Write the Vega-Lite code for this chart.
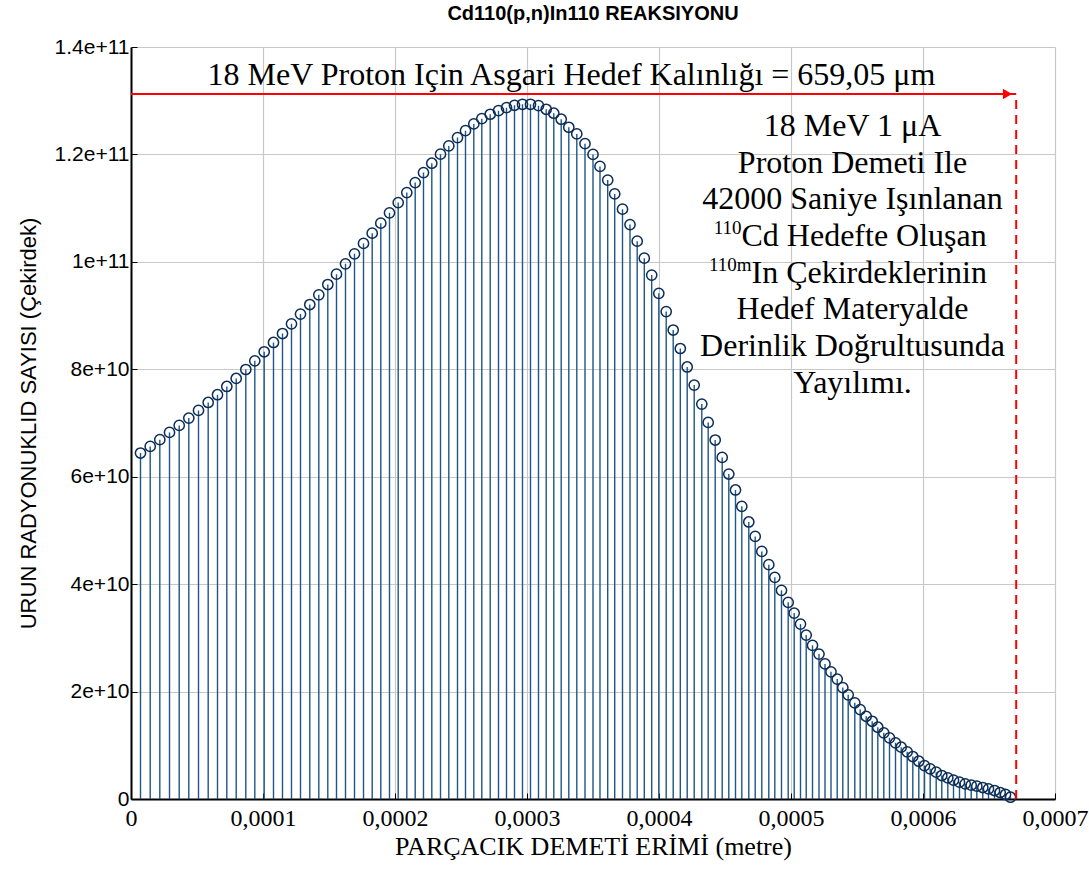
{
  "$schema": "https://vega.github.io/schema/vega-lite/v6.json",
  "width": 924,
  "height": 752,
  "autosize": "none",
  "padding": {"left": 131, "top": 47, "right": 34, "bottom": 73},
  "background": "white",
  "config": {"view": {"stroke": null}},
  "title": {"text": "Cd110(p,n)In110 REAKSIYONU", "font": "Liberation Sans", "fontSize": 20, "fontWeight": "bold", "color": "black", "anchor": "middle", "offset": 12},
  "datasets": {
    "pts": [
      {"x": 7.20e-6, "y": 6.441e10}, {"x": 1.455e-5, "y": 6.564e10}, {"x": 2.182e-5, "y": 6.689e10}, {"x": 2.917e-5, "y": 6.824e10},
      {"x": 3.652e-5, "y": 6.955e10}, {"x": 4.379e-5, "y": 7.092e10}, {"x": 5.114e-5, "y": 7.234e10}, {"x": 5.848e-5, "y": 7.382e10},
      {"x": 6.553e-5, "y": 7.526e10}, {"x": 7.258e-5, "y": 7.680e10}, {"x": 7.970e-5, "y": 7.829e10}, {"x": 8.697e-5, "y": 7.996e10},
      {"x": 9.379e-5, "y": 8.158e10}, {"x": 1.0091e-4, "y": 8.326e10}, {"x": 1.0795e-4, "y": 8.499e10}, {"x": 1.1477e-4, "y": 8.666e10},
      {"x": 1.2159e-4, "y": 8.847e10}, {"x": 1.2841e-4, "y": 9.027e10}, {"x": 1.3545e-4, "y": 9.206e10}, {"x": 1.4227e-4, "y": 9.386e10},
      {"x": 1.4909e-4, "y": 9.578e10}, {"x": 1.5568e-4, "y": 9.771e10}, {"x": 1.6250e-4, "y": 9.963e10}, {"x": 1.6932e-4, "y": 1.0149e11},
      {"x": 1.7614e-4, "y": 1.0344e11}, {"x": 1.8273e-4, "y": 1.0534e11}, {"x": 1.8924e-4, "y": 1.0720e11}, {"x": 1.9583e-4, "y": 1.0912e11},
      {"x": 2.0242e-4, "y": 1.1103e11}, {"x": 2.0894e-4, "y": 1.1289e11}, {"x": 2.1530e-4, "y": 1.1476e11}, {"x": 2.2159e-4, "y": 1.1662e11},
      {"x": 2.2788e-4, "y": 1.1836e11}, {"x": 2.3447e-4, "y": 1.2004e11}, {"x": 2.4076e-4, "y": 1.2158e11}, {"x": 2.4735e-4, "y": 1.2313e11},
      {"x": 2.5341e-4, "y": 1.2443e11}, {"x": 2.5970e-4, "y": 1.2568e11}, {"x": 2.6576e-4, "y": 1.2666e11}, {"x": 2.7212e-4, "y": 1.2748e11},
      {"x": 2.7841e-4, "y": 1.2815e11}, {"x": 2.8447e-4, "y": 1.2871e11}, {"x": 2.9053e-4, "y": 1.2915e11}, {"x": 2.9659e-4, "y": 1.2934e11},
      {"x": 3.0265e-4, "y": 1.2934e11}, {"x": 3.0871e-4, "y": 1.2908e11}, {"x": 3.1455e-4, "y": 1.2841e11}, {"x": 3.2030e-4, "y": 1.2767e11},
      {"x": 3.2591e-4, "y": 1.2655e11}, {"x": 3.3167e-4, "y": 1.2506e11}, {"x": 3.3773e-4, "y": 1.2382e11}, {"x": 3.4394e-4, "y": 1.2201e11},
      {"x": 3.5000e-4, "y": 1.2000e11}, {"x": 3.5530e-4, "y": 1.1777e11}, {"x": 3.6114e-4, "y": 1.1522e11}, {"x": 3.6644e-4, "y": 1.1265e11},
      {"x": 3.7235e-4, "y": 1.0981e11}, {"x": 3.7803e-4, "y": 1.0694e11}, {"x": 3.8348e-4, "y": 1.0385e11}, {"x": 3.8886e-4, "y": 1.0069e11},
      {"x": 3.9447e-4, "y": 9.753e10}, {"x": 3.9985e-4, "y": 9.414e10}, {"x": 4.0545e-4, "y": 9.074e10}, {"x": 4.1076e-4, "y": 8.731e10},
      {"x": 4.1614e-4, "y": 8.387e10}, {"x": 4.2136e-4, "y": 8.043e10}, {"x": 4.2667e-4, "y": 7.706e10}, {"x": 4.3242e-4, "y": 7.353e10},
      {"x": 4.3727e-4, "y": 7.010e10}, {"x": 4.4258e-4, "y": 6.683e10}, {"x": 4.4788e-4, "y": 6.359e10}, {"x": 4.5288e-4, "y": 6.050e10},
      {"x": 4.5795e-4, "y": 5.753e10}, {"x": 4.6273e-4, "y": 5.448e10}, {"x": 4.6803e-4, "y": 5.157e10}, {"x": 4.7288e-4, "y": 4.889e10},
      {"x": 4.7788e-4, "y": 4.610e10}, {"x": 4.8318e-4, "y": 4.363e10}, {"x": 4.8773e-4, "y": 4.127e10}, {"x": 4.9280e-4, "y": 3.885e10},
      {"x": 4.9788e-4, "y": 3.661e10}, {"x": 5.0242e-4, "y": 3.461e10}, {"x": 5.0720e-4, "y": 3.256e10}, {"x": 5.1152e-4, "y": 3.051e10},
      {"x": 5.1629e-4, "y": 2.861e10}, {"x": 5.2121e-4, "y": 2.698e10}, {"x": 5.2576e-4, "y": 2.515e10}, {"x": 5.3030e-4, "y": 2.367e10},
      {"x": 5.3500e-4, "y": 2.233e10}, {"x": 5.3924e-4, "y": 2.074e10}, {"x": 5.4333e-4, "y": 1.939e10}, {"x": 5.4833e-4, "y": 1.790e10},
      {"x": 5.5242e-4, "y": 1.665e10}, {"x": 5.5697e-4, "y": 1.540e10}, {"x": 5.6152e-4, "y": 1.447e10}, {"x": 5.6576e-4, "y": 1.336e10},
      {"x": 5.7030e-4, "y": 1.232e10}, {"x": 5.7462e-4, "y": 1.139e10}, {"x": 5.7917e-4, "y": 1.046e10}, {"x": 5.8348e-4, "y": 9.64e9},
      {"x": 5.8803e-4, "y": 8.78e9}, {"x": 5.9227e-4, "y": 7.91e9}, {"x": 5.9682e-4, "y": 7.03e9}, {"x": 6.0114e-4, "y": 6.23e9},
      {"x": 6.0545e-4, "y": 5.62e9}, {"x": 6.1000e-4, "y": 4.99e9}, {"x": 6.1424e-4, "y": 4.37e9}, {"x": 6.1879e-4, "y": 3.94e9},
      {"x": 6.2311e-4, "y": 3.50e9}, {"x": 6.2765e-4, "y": 3.13e9}, {"x": 6.3197e-4, "y": 2.83e9}, {"x": 6.3652e-4, "y": 2.57e9},
      {"x": 6.4076e-4, "y": 2.38e9}, {"x": 6.4530e-4, "y": 2.14e9}, {"x": 6.4962e-4, "y": 1.90e9}, {"x": 6.5417e-4, "y": 1.58e9},
      {"x": 6.5848e-4, "y": 1.21e9}, {"x": 6.6250e-4, "y": 8.4e8}, {"x": 6.6629e-4, "y": 3.3e8}
    ],
    "arrow": [{"x": 0, "x2": 6.706e-4, "y": 1.3126e11}],
    "head": [{"x": 6.64e-4, "y": 1.3126e11}],
    "dash": [{"x": 6.706e-4, "y": 0, "y2": 1.3126e11}],
    "centerText": [
      {"x": 3.337e-4, "y": 1.329e11, "text": "18 MeV Proton Için Asgari Hedef Kalınlığı = 659,05 μm"},
      {"x": 5.466e-4, "y": 1.2344e11, "text": "18 MeV 1 μA"},
      {"x": 5.466e-4, "y": 1.1662e11, "text": "Proton Demeti Ile"},
      {"x": 5.466e-4, "y": 1.0979e11, "text": "42000 Saniye Işınlanan"},
      {"x": 5.466e-4, "y": 8.930e10, "text": "Hedef Materyalde"},
      {"x": 5.466e-4, "y": 8.248e10, "text": "Derinlik Doğrultusunda"},
      {"x": 5.466e-4, "y": 7.565e10, "text": "Yayılımı."}
    ],
    "leftText": [
      {"x": 4.625e-4, "y": 1.0296e11, "text": "Cd Hedefte Oluşan"},
      {"x": 4.7008e-4, "y": 9.613e10, "text": "In Çekirdeklerinin"}
    ],
    "supText": [
      {"x": 4.625e-4, "y": 1.0521e11, "text": "110"},
      {"x": 4.7008e-4, "y": 9.836e10, "text": "110m"}
    ]
  },
  "layer": [
    {
      "data": {"name": "pts"},
      "mark": {"type": "rule", "color": "#1f5687", "strokeWidth": 1.4},
      "encoding": {
        "x": {"field": "x", "type": "quantitative", "scale": {"domain": [0, 0.0007], "nice": false},
          "axis": {"values": [0, 0.0001, 0.0002, 0.0003, 0.0004, 0.0005, 0.0006, 0.0007],
            "labelExpr": "datum.value == 0 ? '0' : replace(format(datum.value, '.4f'), '.', ',')",
            "title": "PARÇACIK DEMETİ ERİMİ (metre)", "titleFont": "Liberation Serif", "titleFontSize": 26, "titleFontWeight": "normal", "titleColor": "black", "titlePadding": 3,
            "labelFont": "Liberation Serif", "labelFontSize": 24, "labelColor": "black", "labelPadding": 13, "labelFlush": false,
            "grid": true, "gridColor": "#c8c8c8", "gridWidth": 1.2,
            "domainColor": "black", "domainWidth": 2, "tickColor": "black", "tickSize": -6, "tickWidth": 1}},
        "y": {"field": "y", "type": "quantitative", "scale": {"domain": [0, 1.4e11], "nice": false},
          "axis": {"values": [0, 2e10, 4e10, 6e10, 8e10, 1e11, 1.2e11, 1.4e11],
            "labelExpr": "datum.value == 0 ? '0' : format(datum.value, '.2~e')",
            "title": "URUN RADYONUKLID SAYISI (Çekirdek)", "titleFont": "Liberation Sans", "titleFontSize": 22, "titleFontWeight": "normal", "titleColor": "black", "titlePadding": 14,
            "labelFont": "Liberation Sans", "labelFontSize": 21, "labelColor": "black", "labelPadding": 8,
            "grid": true, "gridColor": "#c8c8c8", "gridWidth": 1.2,
            "domainColor": "black", "domainWidth": 2, "tickColor": "black", "tickSize": -6, "tickWidth": 1}},
        "y2": {"datum": 0}
      }
    },
    {
      "data": {"name": "pts"},
      "mark": {"type": "point", "shape": "circle", "filled": false, "size": 105, "stroke": "#0b2d57", "strokeWidth": 1.5, "opacity": 1},
      "encoding": {
        "x": {"field": "x", "type": "quantitative"},
        "y": {"field": "y", "type": "quantitative"}
      }
    },
    {
      "data": {"name": "arrow"},
      "mark": {"type": "rule", "color": "#ff0000", "strokeWidth": 2},
      "encoding": {
        "x": {"field": "x", "type": "quantitative"},
        "x2": {"field": "x2"},
        "y": {"field": "y", "type": "quantitative"}
      }
    },
    {
      "data": {"name": "head"},
      "mark": {"type": "point", "shape": "triangle-right", "filled": true, "color": "#ff0000", "size": 110, "opacity": 1},
      "encoding": {
        "x": {"field": "x", "type": "quantitative"},
        "y": {"field": "y", "type": "quantitative"}
      }
    },
    {
      "data": {"name": "dash"},
      "mark": {"type": "rule", "color": "#ff0000", "strokeWidth": 2, "strokeDash": [9, 6]},
      "encoding": {
        "x": {"field": "x", "type": "quantitative"},
        "y": {"field": "y", "type": "quantitative"},
        "y2": {"field": "y2"}
      }
    },
    {
      "data": {"name": "centerText"},
      "mark": {"type": "text", "font": "Liberation Serif", "fontSize": 32, "color": "black", "baseline": "alphabetic", "align": "center"},
      "encoding": {
        "x": {"field": "x", "type": "quantitative"},
        "y": {"field": "y", "type": "quantitative"},
        "text": {"field": "text"}
      }
    },
    {
      "data": {"name": "leftText"},
      "mark": {"type": "text", "font": "Liberation Serif", "fontSize": 32, "color": "black", "baseline": "alphabetic", "align": "left"},
      "encoding": {
        "x": {"field": "x", "type": "quantitative"},
        "y": {"field": "y", "type": "quantitative"},
        "text": {"field": "text"}
      }
    },
    {
      "data": {"name": "supText"},
      "mark": {"type": "text", "font": "Liberation Serif", "fontSize": 19, "color": "black", "baseline": "alphabetic", "align": "right"},
      "encoding": {
        "x": {"field": "x", "type": "quantitative"},
        "y": {"field": "y", "type": "quantitative"},
        "text": {"field": "text"}
      }
    }
  ]
}
